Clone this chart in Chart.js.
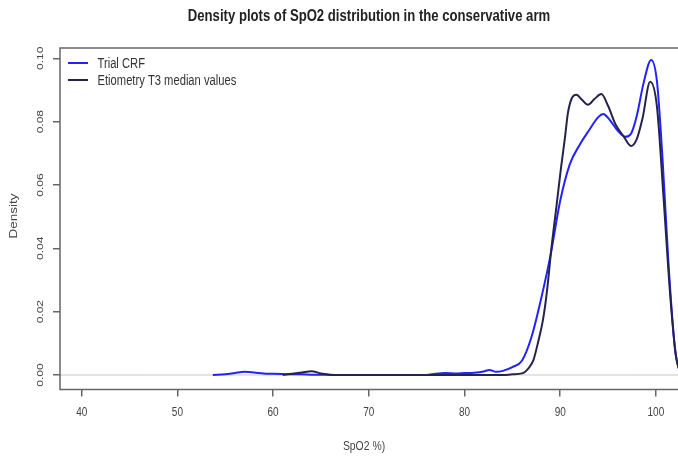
<!DOCTYPE html>
<html>
<head>
<meta charset="utf-8">
<script src="https://cdn.jsdelivr.net/npm/chart.js@4/dist/chart.umd.min.js"></script>
<style>
  html, body { margin: 0; padding: 0; background: #fff; overflow: hidden; }
</style>
</head>
<body>
<canvas id="chart" width="678" height="457"></canvas>
<script>
const chartTitle = "Density plots of SpO2 distribution in the conservative arm";
const xTitle = "SpO2 %)";
const yTitle = "Density";
const seriesNames = ["Trial CRF", "Etiometry T3 median values"];
const seriesColors = ["#2222ff", "#23234d"];

// Trial CRF density curve
const trialSpo2 = [53.7, 55, 56, 57, 58, 59, 60, 61, 62, 63, 64, 65, 66, 70, 76, 77, 78, 79, 80, 81, 82, 82.6, 83.3, 84, 85, 86, 87, 88, 89, 90, 91, 92, 93, 94, 94.5, 95, 96, 96.8, 97.4, 98, 98.7, 99.5, 100.1, 100.7, 101.3, 102, 102.6];
const trialDensity = [0, 0.0002, 0.0006, 0.001, 0.0008, 0.0005, 0.0004, 0.0003, 0.0002, 0.0002, 0.0001, 0.0001, 0, 0, 0, 0.0004, 0.0006, 0.0005, 0.0006, 0.0007, 0.0011, 0.0016, 0.001, 0.0013, 0.0025, 0.0045, 0.012, 0.024, 0.038, 0.055, 0.0665, 0.0725, 0.0772, 0.0815, 0.0824, 0.0812, 0.0772, 0.0752, 0.0762, 0.0818, 0.092, 0.0995, 0.093, 0.068, 0.036, 0.008, 0];

// Etiometry T3 median values density curve
const etioSpo2 = [61, 62, 63, 64, 65, 66, 68, 80, 84, 85, 86, 86.7, 87.2, 87.7, 88.2, 88.6, 89.1, 89.6, 90.1, 90.5, 90.8, 91.2, 91.7, 92.3, 92.9, 93.6, 94.3, 95, 95.8, 96.6, 97.4, 98, 98.6, 99.4, 100.1, 100.8, 101.5, 102.1, 102.6];
const etioDensity = [0, 0.0004, 0.0008, 0.0012, 0.0005, 0.0001, 0, 0, 0, 0.0002, 0.0005, 0.0022, 0.0047, 0.0105, 0.0174, 0.026, 0.0405, 0.053, 0.0658, 0.075, 0.0826, 0.0873, 0.0885, 0.0868, 0.0853, 0.0872, 0.0887, 0.085, 0.079, 0.0755, 0.0723, 0.0745, 0.081, 0.0926, 0.085, 0.056, 0.025, 0.006, 0];

const xTicks = [40, 50, 60, 70, 80, 90, 100];
const yTicks = [0, 0.02, 0.04, 0.06, 0.08, 0.10];

const FONT = "'Liberation Sans', Arial, sans-serif";
const SQUISH = 0.8; // the source picture is narrower than its text
const axisGray = "#666";

function drawText(ctx, text, x, y, size, opts = {}) {
  ctx.save();
  ctx.translate(x, y);
  if (opts.rotate) {
    ctx.rotate(-Math.PI / 2);
    ctx.scale(1, SQUISH);
  } else {
    ctx.scale(opts.sx || SQUISH, 1);
  }
  ctx.font = (opts.bold ? "bold " : "") + size + "px " + FONT;
  ctx.fillStyle = opts.color || "#444";
  ctx.textAlign = opts.align || "center";
  ctx.textBaseline = "middle";
  ctx.fillText(text, 0, 0);
  ctx.restore();
}

// R style frame, zero line, titles, tick labels and legend
const framePlugin = {
  id: "frame",
  beforeDatasetsDraw(chart) {
    const { ctx, chartArea: a, scales } = chart;
    const y0 = scales.y.getPixelForValue(0);
    ctx.save();
    ctx.strokeStyle = "#c8c8c8";
    ctx.lineWidth = 1;
    ctx.beginPath();
    ctx.moveTo(a.left, y0);
    ctx.lineTo(a.right, y0);
    ctx.stroke();
    ctx.restore();
  },
  afterDraw(chart) {
    const { ctx, chartArea: a, scales } = chart;
    ctx.save();
    ctx.strokeStyle = axisGray;
    ctx.lineWidth = 1.5;
    ctx.beginPath();
    ctx.moveTo(a.right + 2, a.top);
    ctx.lineTo(a.left, a.top);
    ctx.lineTo(a.left, a.bottom);
    ctx.lineTo(a.right + 2, a.bottom);
    ctx.stroke();
    ctx.restore();

    drawText(ctx, chartTitle, 369, 17, 16, { bold: true, color: "#222", sx: 0.82 });
    drawText(ctx, xTitle, 364, 446, 13, { color: "#444" });
    drawText(ctx, yTitle, 14, 216, 13.5, { rotate: true, color: "#444" });

    scales.x.ticks.forEach(t => {
      drawText(ctx, String(t.value), scales.x.getPixelForValue(t.value), 413, 12.5, { color: "#444" });
    });
    scales.y.ticks.forEach(t => {
      drawText(ctx, t.value.toFixed(2), 40, scales.y.getPixelForValue(t.value), 12, { rotate: true, color: "#444" });
    });

    chart.data.datasets.forEach((ds, i) => {
      const ly = a.top + 15 + i * 17;
      ctx.save();
      ctx.strokeStyle = ds.borderColor;
      ctx.lineWidth = 2;
      ctx.beginPath();
      ctx.moveTo(a.left + 8, ly);
      ctx.lineTo(a.left + 28, ly);
      ctx.stroke();
      ctx.restore();
      drawText(ctx, ds.label, a.left + 37.5, ly + 1, 14, { align: "left", color: "#333" });
    });
  }
};

new Chart(document.getElementById("chart"), {
  type: "line",
  data: {
    datasets: [
      {
        label: seriesNames[0],
        data: trialSpo2.map((v, i) => ({ x: v, y: trialDensity[i] })),
        borderColor: seriesColors[0],
        backgroundColor: seriesColors[0],
        borderWidth: 2,
        pointRadius: 0,
        cubicInterpolationMode: "monotone",
        order: 1
      },
      {
        label: seriesNames[1],
        data: etioSpo2.map((v, i) => ({ x: v, y: etioDensity[i] })),
        borderColor: seriesColors[1],
        backgroundColor: seriesColors[1],
        borderWidth: 2,
        pointRadius: 0,
        cubicInterpolationMode: "monotone",
        order: 0
      }
    ]
  },
  options: {
    responsive: false,
    animation: false,
    layout: { padding: { top: 48, right: 0, bottom: 0, left: 0 } },
    plugins: {
      legend: { display: false },
      title: { display: false },
      tooltip: { enabled: false }
    },
    scales: {
      x: {
        type: "linear",
        min: 37.73,
        max: 102.31,
        afterFit: s => { s.height = 67.5; },
        afterBuildTicks: s => { s.ticks = xTicks.map(v => ({ value: v })); },
        ticks: {
          autoSkip: false,
          maxRotation: 0,
          color: "rgba(0,0,0,0)",
          font: { family: FONT, size: 12 }
        },
        grid: {
          drawOnChartArea: false,
          drawTicks: true,
          tickLength: 7,
          color: axisGray,
          lineWidth: 1.5
        },
        border: { display: false },
        title: { display: false }
      },
      y: {
        min: -0.00458,
        max: 0.10325,
        afterFit: s => { s.width = 60; },
        afterBuildTicks: s => { s.ticks = yTicks.map(v => ({ value: v })); },
        ticks: {
          color: "rgba(0,0,0,0)",
          font: { family: FONT, size: 12 }
        },
        grid: {
          drawOnChartArea: false,
          drawTicks: true,
          tickLength: 7,
          color: axisGray,
          lineWidth: 1.5
        },
        border: { display: false },
        title: { display: false }
      }
    }
  },
  plugins: [framePlugin]
});
</script>
</body>
</html>
